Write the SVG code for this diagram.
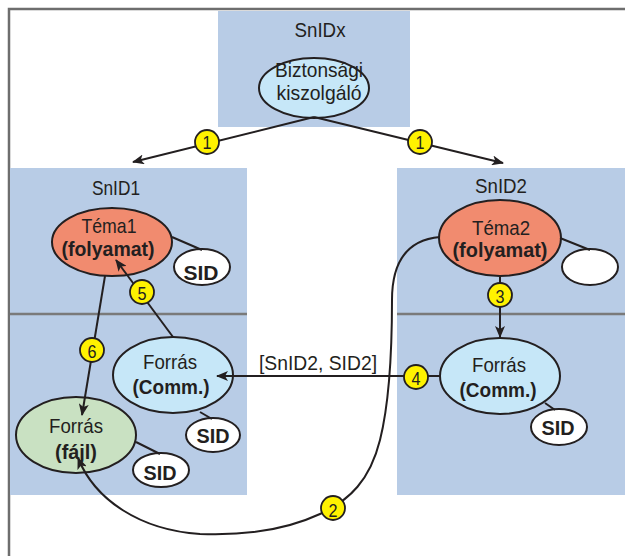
<svg xmlns="http://www.w3.org/2000/svg" width="625" height="556" viewBox="0 0 625 556">
<defs>
<style>
.box{fill:#b8cce6;stroke:none}
.div{stroke:#7a7a7a;stroke-width:2.5}
.frame{stroke:#6e6e6e;stroke-width:2.5;fill:none}
.el{stroke:#231f20;stroke-width:2}
.blue{fill:#c6e7f8}
.sal{fill:#f18b6f}
.grn{fill:#c9e1c2}
.wht{fill:#ffffff}
.ln{stroke:#231f20;stroke-width:2;fill:none}
.t{font-family:"Liberation Sans",Arial,sans-serif;font-size:21px;fill:#231f20;text-anchor:middle}
.b{font-weight:bold}
.num{fill:#fff200;stroke:#231f20;stroke-width:1.8}
.nt{font-family:"Liberation Sans",Arial,sans-serif;font-size:18px;fill:#231f20;text-anchor:middle}
</style>
<marker id="ah" viewBox="0 0 12 10" refX="11" refY="5" markerWidth="12" markerHeight="10" markerUnits="userSpaceOnUse" orient="auto">
<path d="M0,0 L12,5 L0,10 L3,5 Z" fill="#231f20"/>
</marker>
</defs>
<rect width="625" height="556" fill="#ffffff"/>
<path class="frame" d="M9,556 V9 H625"/>

<g id="zone-snidx">
<rect class="box" x="218" y="11" width="192" height="116"/>
<text class="t" x="320" y="37" textLength="51" lengthAdjust="spacingAndGlyphs">SnIDx</text>
</g>
<g id="zone-snid1">
<rect class="box" x="10" y="168" width="237" height="327"/>
<line class="div" x1="10" y1="314" x2="247" y2="314"/>
<text class="t" x="116" y="195" textLength="48" lengthAdjust="spacingAndGlyphs">SnID1</text>
</g>
<g id="zone-snid2">
<rect class="box" x="397" y="168" width="228" height="327"/>
<line class="div" x1="397" y1="314" x2="625" y2="314"/>
<text class="t" x="501" y="193" textLength="52" lengthAdjust="spacingAndGlyphs">SnID2</text>
</g>

<g id="node-biztonsagi">
<ellipse class="el blue" cx="314" cy="88" rx="55" ry="30"/>
<text class="t" x="319" y="77" textLength="88" lengthAdjust="spacingAndGlyphs">Biztonsági</text>
<text class="t" x="319" y="100" textLength="85" lengthAdjust="spacingAndGlyphs">kiszolgáló</text>
</g>
<g id="node-tema1">
<ellipse class="el sal" cx="112" cy="242" rx="60" ry="34"/>
<text class="t" x="109" y="233" textLength="55" lengthAdjust="spacingAndGlyphs">Téma1</text>
<text class="t b" x="108" y="256" textLength="93" lengthAdjust="spacingAndGlyphs">(folyamat)</text>
</g>
<g id="node-sid-tema1">
<ellipse class="el wht" cx="202" cy="267" rx="28" ry="18"/>
<text class="t b" x="201" y="280" textLength="35" lengthAdjust="spacingAndGlyphs">SID</text>
</g>
<g id="node-tema2">
<ellipse class="el sal" cx="500" cy="238" rx="61" ry="38"/>
<text class="t" x="501" y="235" textLength="58" lengthAdjust="spacingAndGlyphs">Téma2</text>
<text class="t b" x="500" y="257" textLength="95" lengthAdjust="spacingAndGlyphs">(folyamat)</text>
</g>
<g id="node-empty-tema2">
<ellipse class="el wht" cx="590" cy="267" rx="28" ry="18"/>
</g>
<g id="node-forras-comm1">
<ellipse class="el blue" cx="173" cy="375" rx="60" ry="38"/>
<text class="t" x="170" y="369" textLength="54" lengthAdjust="spacingAndGlyphs">Forrás</text>
<text class="t b" x="171" y="394" textLength="77" lengthAdjust="spacingAndGlyphs">(Comm.)</text>
</g>
<g id="node-sid-comm1">
<ellipse class="el wht" cx="213" cy="435" rx="27" ry="17"/>
<text class="t b" x="213" y="443" textLength="33" lengthAdjust="spacingAndGlyphs">SID</text>
</g>
<g id="node-forras-fajl">
<ellipse class="el grn" cx="76" cy="435" rx="60" ry="38"/>
<text class="t" x="76" y="433" textLength="54" lengthAdjust="spacingAndGlyphs">Forrás</text>
<text class="t b" x="76" y="459" textLength="42" lengthAdjust="spacingAndGlyphs">(fájl)</text>
</g>
<g id="node-sid-fajl">
<ellipse class="el wht" cx="161" cy="470" rx="28" ry="17"/>
<text class="t b" x="160" y="480" textLength="33" lengthAdjust="spacingAndGlyphs">SID</text>
</g>
<g id="node-forras-comm2">
<ellipse class="el blue" cx="500" cy="376" rx="60" ry="38"/>
<text class="t" x="499" y="372" textLength="54" lengthAdjust="spacingAndGlyphs">Forrás</text>
<text class="t b" x="498" y="397" textLength="77" lengthAdjust="spacingAndGlyphs">(Comm.)</text>
</g>
<g id="node-sid-comm2">
<ellipse class="el wht" cx="559" cy="427" rx="28" ry="18"/>
<text class="t b" x="558" y="435" textLength="33" lengthAdjust="spacingAndGlyphs">SID</text>
</g>

<g id="connectors">
<line class="ln" x1="314" y1="117" x2="133" y2="162" marker-end="url(#ah)"/>
<line class="ln" x1="314" y1="117" x2="503" y2="163" marker-end="url(#ah)"/>
<line class="ln" x1="172" y1="237" x2="202" y2="250"/>
<line class="ln" x1="560" y1="238" x2="590" y2="250"/>
<line class="ln" x1="136" y1="442" x2="160" y2="454"/>
<line class="ln" x1="200" y1="412" x2="212" y2="419"/>
<line class="ln" x1="545" y1="403" x2="555" y2="410"/>
<line class="ln" x1="173" y1="337" x2="116" y2="260" marker-end="url(#ah)"/>
<line class="ln" x1="105" y1="276" x2="82" y2="415" marker-end="url(#ah)"/>
<line class="ln" x1="500" y1="277" x2="500" y2="337" marker-end="url(#ah)"/>
<line class="ln" x1="440" y1="376" x2="217" y2="376" marker-end="url(#ah)"/>
<path class="ln" d="M440,237 C405,240 392,265 392,300 C392,340 390,400 380,440 C370,480 350,500 320,514 C290,528 250,536 200,534 C140,530 95,500 78,458" marker-end="url(#ah)"/>
<text class="t" x="318" y="370" textLength="118" lengthAdjust="spacingAndGlyphs">[SnID2, SID2]</text>
<g id="badges">
<circle class="num" cx="207" cy="142" r="12"/><text class="nt" x="207" y="149" textLength="9" lengthAdjust="spacingAndGlyphs">1</text>
<circle class="num" cx="420" cy="142" r="12"/><text class="nt" x="420" y="149" textLength="9" lengthAdjust="spacingAndGlyphs">1</text>
<circle class="num" cx="333" cy="508" r="12"/><text class="nt" x="333" y="517" textLength="9" lengthAdjust="spacingAndGlyphs">2</text>
<circle class="num" cx="500" cy="295" r="12"/><text class="nt" x="500" y="303" textLength="9" lengthAdjust="spacingAndGlyphs">3</text>
<circle class="num" cx="416" cy="377" r="12"/><text class="nt" x="416" y="385" textLength="9" lengthAdjust="spacingAndGlyphs">4</text>
<circle class="num" cx="142" cy="292" r="12"/><text class="nt" x="142" y="300" textLength="9" lengthAdjust="spacingAndGlyphs">5</text>
<circle class="num" cx="92" cy="350" r="12"/><text class="nt" x="92" y="358" textLength="9" lengthAdjust="spacingAndGlyphs">6</text>
</g>
</g>
</svg>
